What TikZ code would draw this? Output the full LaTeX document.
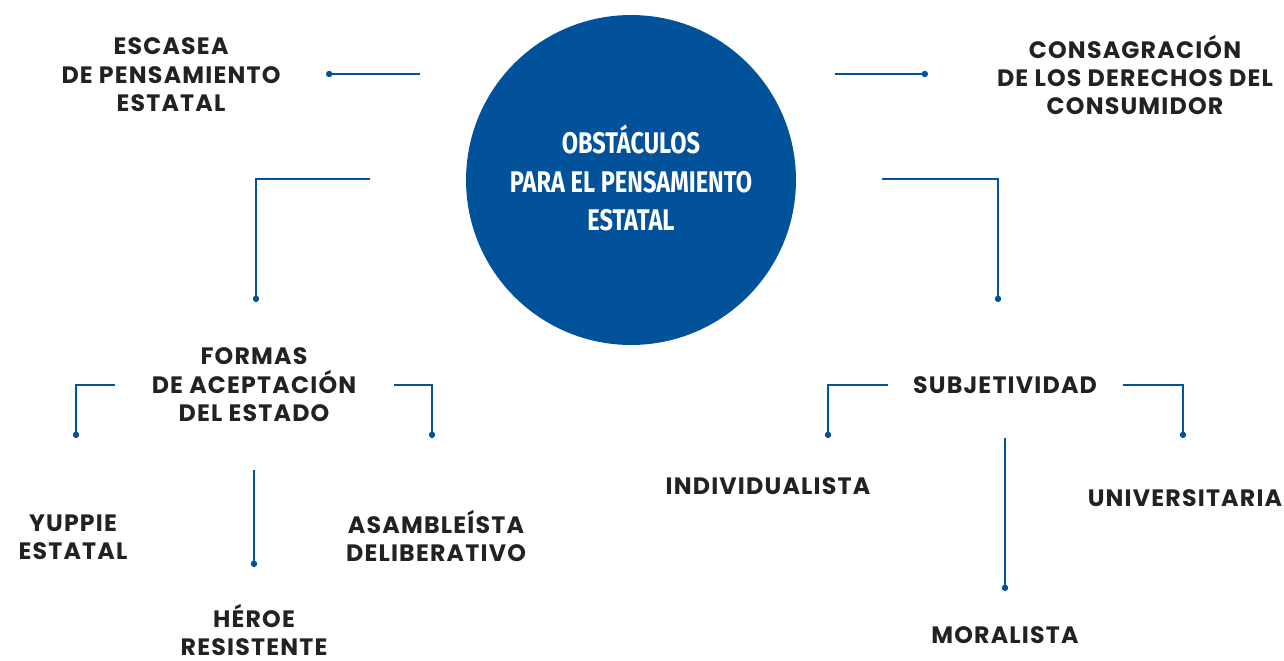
\documentclass[tikz,border=0pt]{standalone}
\usepackage{fontspec}
\setmainfont{Poppins}[LetterSpace=5]
\newfontfamily\titlefont[FakeStretch=0.79]{Fira Sans}
\usetikzlibrary{arrows.meta,positioning}
\definecolor{obsblue}{RGB}{2,82,155}
\definecolor{txtgray}{RGB}{34,34,34}

\tikzset{
    label text/.style={align=center, text=txtgray, inner sep=0pt,
        font=\fontsize{13.5}{16.2}\selectfont\bfseries},
    link/.style={draw=obsblue, line width=0.8pt, -{Circle[length=3.6pt]}},
}

\begin{document}
\begin{tikzpicture}[x=0.02cm, y=-0.02cm]
        \useasboundingbox (0,0) rectangle (1284,660);

        % centre circle
        \node[circle, fill=obsblue, minimum size=6.6cm, inner sep=0pt] (obs) at (631,180) {};
        \node[align=center, text=white, inner sep=0pt,
              font=\titlefont\fontsize{17}{22}\selectfont\bfseries] (obstitle) at (631,178)
              {OBSTÁCULOS\\PARA EL PENSAMIENTO\\ESTATAL};

        % top row
        \node[label text] (escasea) at (171,75) {ESCASEA\\DE PENSAMIENTO\\ESTATAL};
        \node[label text] (consag) at (1135,75) {CONSAGRACIÓN\\DE LOS DERECHOS DEL\\CONSUMIDOR};

        % second level
        \node[label text] (formas) at (254,385) {FORMAS\\DE ACEPTACIÓN\\DEL ESTADO};
        \node[label text] (subjet) at (1005,385) {SUBJETIVIDAD};

        % leaves left
        \node[label text] (yuppie) at (73,537) {YUPPIE\\ESTATAL};
        \node[label text] (asamb) at (436,536) {ASAMBLEÍSTA\\DELIBERATIVO};
        \node[label text] (heroe) at (254,630) {HÉROE\\RESISTENTE};

        % leaves right
        \node[label text] (indiv) at (768,486) {INDIVIDUALISTA};
        \node[label text] (univ) at (1185,498) {UNIVERSITARIA};
        \node[label text] (moral) at (1005,635) {MORALISTA};

        % connector ends
        \coordinate (escFrom) at (420,74);   \coordinate (escDot) at (326,74);
        \coordinate (conFrom) at (835,74);   \coordinate (conDot) at (928,74);
        \coordinate (formFrom) at (370,179); \coordinate (formDot) at (256,302);
        \coordinate (subjFrom) at (882,179); \coordinate (subjDot) at (998,302);
        \coordinate (yupFrom) at (115,385);  \coordinate (yupDot) at (76,438);
        \coordinate (asaFrom) at (394,385);  \coordinate (asaDot) at (432,438);
        \coordinate (herFrom) at (254,470);  \coordinate (herDot) at (254,567);
        \coordinate (indFrom) at (888,385);  \coordinate (indDot) at (828,438);
        \coordinate (uniFrom) at (1123,385); \coordinate (uniDot) at (1183,438);
        \coordinate (morFrom) at (1005,438); \coordinate (morDot) at (1005,591);

        \draw[link] (escFrom) -- (escDot);
        \draw[link] (conFrom) -- (conDot);
        \draw[link] (formFrom) -| (formDot);
        \draw[link] (subjFrom) -| (subjDot);
        \draw[link] (yupFrom) -| (yupDot);
        \draw[link] (asaFrom) -| (asaDot);
        \draw[link] (herFrom) -- (herDot);
        \draw[link] (indFrom) -| (indDot);
        \draw[link] (uniFrom) -| (uniDot);
        \draw[link] (morFrom) -- (morDot);
\end{tikzpicture}
\end{document}
